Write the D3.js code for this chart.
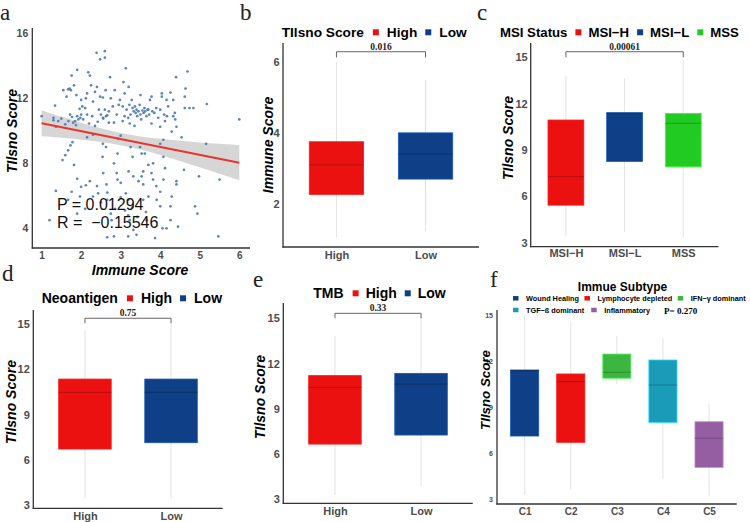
<!DOCTYPE html>
<html><head><meta charset="utf-8">
<script src="https://cdn.jsdelivr.net/npm/d3@7"></script>
<style>body{margin:0;background:#fff} svg{display:block}</style>
</head><body>
<svg id="chart" width="750" height="522"></svg>
<script>
// ---------- DATA ----------
const scatterPoints = [
[1.0,10.9],[1.3,10.8],[1.3,10.65],[1.34,11.55],[1.5,10.75],[1.55,12.5],[1.63,12.1],[1.67,12.55],[1.71,12.6],[1.74,12.5],[1.76,13.4],[1.82,12.8],[1.9,13.75],[1.72,11.0],[1.77,10.85],[1.8,10.5],[1.85,10.6],[1.9,10.9],[1.93,10.7],[1.96,11.35],[2.0,11.0],[1.98,10.8],[1.6,10.4],[1.68,10.6],[1.87,10.35],[2.0,11.9],[2.03,11.5],[1.88,12.2],[1.42,10.6],
[2.05,10.7],[2.1,11.4],[2.12,12.0],[2.15,11.0],[2.18,13.6],[2.22,13.4],[2.25,12.8],[2.2,10.45],[2.28,10.9],[2.35,12.4],[2.4,12.7],[2.39,14.8],[2.48,14.4],[2.6,14.9],[2.6,14.5],[2.48,12.1],[2.45,11.3],[2.5,11.0],[2.55,10.8],[2.56,10.75],[2.6,11.3],[2.62,12.5],[2.63,10.9],[2.66,10.95],[2.7,11.2],[2.73,13.3],[2.75,12.0],[2.8,11.5],[2.83,10.5],[2.85,12.5],[2.9,11.0],[2.95,11.6],[2.98,11.9],[2.35,10.3],[2.42,10.55],[2.7,10.5],[2.3,11.8],[2.15,12.3],[2.55,12.05],
[3.05,11.5],[3.07,13.0],[3.13,13.85],[3.1,12.3],[3.15,11.3],[3.19,10.8],[3.22,11.6],[3.25,11.0],[3.28,11.9],[3.3,11.4],[3.33,11.2],[3.36,11.5],[3.38,11.1],[3.4,11.3],[3.42,10.9],[3.45,11.2],[3.48,11.6],[3.5,11.0],[3.52,10.7],[3.55,11.25],[3.58,11.1],[3.6,11.4],[3.62,11.2],[3.65,10.9],[3.68,11.3],[3.7,11.3],[3.72,11.0],[3.74,11.9],[3.78,12.1],[3.78,10.45],[3.8,11.2],[3.85,11.1],[3.23,10.45],[3.05,10.6],[3.1,10.9],[3.35,10.3],[3.5,12.2],[3.2,12.7],[3.9,11.4],[3.95,10.8],
[4.0,10.25],[4.0,11.3],[4.04,12.1],[4.04,12.3],[4.1,11.0],[4.16,11.9],[4.2,11.5],[4.17,10.9],[4.26,12.35],[4.33,11.9],[4.33,10.9],[4.37,11.1],[4.4,13.3],[4.41,10.25],[4.29,9.95],[4.38,10.7],[4.62,11.4],[4.62,12.1],[4.64,12.6],[4.69,13.65],[4.74,11.4],[4.84,11.4],[5.18,11.65],[6.0,10.7],[4.54,9.6],[4.08,9.45],[4.0,9.2],[4.12,10.6],
[1.36,10.25],[1.6,8.5],[1.53,8.2],[1.67,8.8],[1.73,9.1],[1.78,9.3],[1.82,7.9],[2.15,9.6],[2.3,9.75],[2.63,9.0],[2.54,8.4],[2.83,8.0],[2.92,8.6],[2.94,9.5],[3.25,9.0],[3.3,8.4],[3.49,9.0],[3.53,8.6],[3.61,8.6],[3.82,8.0],[4.08,8.4],[5.16,9.2],[3.0,9.7],[2.55,9.2],
[1.2,4.5],[1.36,6.3],[1.76,6.25],[1.9,4.9],[1.97,5.95],[2.0,6.55],[2.12,6.65],[2.22,6.9],[2.3,5.95],[2.43,6.15],[1.67,5.75],[2.56,7.4],[2.64,6.7],[2.66,6.2],[2.66,5.75],[2.66,3.45],[2.83,3.5],[2.86,5.2],[2.77,4.5],[2.9,7.4],[2.92,7.0],[3.32,7.2],[3.2,7.5],[3.13,6.15],[3.19,5.75],[3.11,5.1],[3.19,4.8],[3.23,4.5],[3.32,3.9],[3.19,3.5],[3.4,3.6],[3.42,4.7],[3.53,7.2],[3.57,7.5],[3.57,6.7],[3.57,5.75],[3.78,7.4],[3.82,7.0],[3.7,5.95],[3.64,5.0],[3.66,4.5],[3.87,3.4],[3.91,5.75],[4.0,6.25],[4.0,5.35],[4.06,4.0],[4.16,4.0],[4.08,7.0],[4.12,7.7],[4.41,6.9],[4.41,6.7],[4.29,5.95],[4.26,5.35],[4.26,4.5],[4.45,4.1],[4.98,7.2],[4.88,5.35],[4.94,4.9],[5.5,7.0],[5.47,3.5],[2.4,6.6],[2.5,5.6],[3.0,6.8],[3.45,6.9],[3.9,6.6],[2.1,5.2],[1.9,7.05],[3.0,5.9],[3.7,7.9],[4.6,7.6],[2.75,4.9],[3.3,5.3]
];
const fitX = [1, 6];
const fitY = [10.46, 8.04];
const bandX  = [1, 1.5, 2, 2.5, 3, 3.5, 4, 4.5, 5, 5.5, 6];
const bandLo = [9.66, 9.57, 9.46, 9.32, 9.13, 8.86, 8.52, 8.15, 7.76, 7.36, 6.96];
const bandHi = [11.26, 10.87, 10.50, 10.14, 9.85, 9.64, 9.50, 9.38, 9.28, 9.20, 9.12];
const scatterXTicks = [1, 2, 3, 4, 5, 6];
const scatterYTicks = [4, 8, 12, 16];
const scatterStats = ["P = 0.01294", "R =  \u22120.15546"];

const hlCats = ["High", "Low"];
const hlColors = ["#EC1111", "#0F3F87"];
const bBoxes = [[1.07, 2.27, 3.1, 3.75, 6.0], [1.23, 2.7, 3.41, 4.0, 5.49]];
const bTicks = [2, 4, 6];
const bP = "0.016";

const cCats = ["MSI\u2212H", "MSI\u2212L", "MSS"];
const cColors = ["#EC1111", "#0F3F87", "#22CB22"];
const cBoxes = [[3.43, 5.43, 7.27, 10.94, 13.8], [3.7, 8.26, 11.38, 11.41, 13.64], [3.34, 7.91, 10.73, 11.37, 14.8]];
const tisTicks = [3, 6, 9, 12, 15];
const cP = "0.00061";

const dBoxes = [[3.44, 6.71, 10.47, 11.35, 14.56], [3.38, 7.13, 10.47, 11.35, 15.05]];
const dP = "0.75";
const eBoxes = [[3.28, 6.66, 10.42, 11.2, 13.83], [3.84, 7.26, 10.64, 11.35, 15.07]];
const eP = "0.33";

const fCats = ["C1", "C2", "C3", "C4", "C5"];
const fLabels = ["Wound Healing", "Lymphocyte depleted", "IFN\u2212\u03b3 dominant", "TGF\u2212\u00df dominant", "Inflammatory"];
const fColors = ["#0F3F87", "#EC1111", "#3DB541", "#1A9CB9", "#955EA0"];
const fBoxes = [[3.28, 7.12, 11.38, 11.42, 15.0], [3.6, 6.71, 10.66, 11.16, 14.56], [10.5, 10.88, 11.27, 12.46, 13.63], [4.3, 8.01, 10.44, 12.07, 13.48], [3.22, 5.08, 6.97, 8.05, 9.2]];
const fP = "P= 0.270";

// ---------- DRAW ----------
const SANS = "'Liberation Sans', Arial, sans-serif";
const SERIF = "'Liberation Serif', 'Times New Roman', serif";
const svg = d3.select("#chart");
const AX = "#333333", TICK = "#4d4d4d";
const fmt = d3.format("d");

function axisLines(g, xL, xR, yT, yB) {
  g.append("line").attr("x1", xL).attr("x2", xL).attr("y1", yT).attr("y2", yB + 0.6)
    .attr("stroke", AX).attr("stroke-width", 1.3);
  g.append("line").attr("x1", xL - 0.6).attr("x2", xR).attr("y1", yB).attr("y2", yB)
    .attr("stroke", AX).attr("stroke-width", 1.3);
}
function styleAxis(sel, fs) {
  sel.select(".domain").remove();
  sel.selectAll("text").attr("font-family", SANS).attr("font-weight", "bold")
    .attr("font-size", fs).attr("fill", TICK);
}
function yTitle(g, x, y, txt, fs) {
  g.append("text").attr("transform", `translate(${x},${y}) rotate(-90)`)
    .attr("text-anchor", "middle").attr("font-family", SANS).attr("font-weight", "bold")
    .attr("font-style", "italic").attr("font-size", fs).attr("fill", "#000").text(txt);
}
function panelLetter(x, y, t) {
  svg.append("text").attr("x", x).attr("y", y).attr("font-family", SERIF)
    .attr("font-size", 23).attr("fill", "#222").text(t);
}
function legend(x0, yc, title, labels, colors, o) {
  let x = x0;
  const g = svg.append("g");
  if (title) {
    const t = g.append("text").attr("x", x).attr("y", yc + o.fs * 0.36)
      .attr("font-family", SANS).attr("font-weight", "bold").attr("font-size", o.fs).text(title);
    x += t.node().getComputedTextLength() + o.gT;
  }
  labels.forEach((l, i) => {
    g.append("rect").attr("x", x).attr("y", yc - o.sh / 2).attr("width", o.sw).attr("height", o.sh)
      .attr("fill", colors[i]);
    x += o.sw + o.gS;
    const t = g.append("text").attr("x", x).attr("y", yc + o.fs * 0.36)
      .attr("font-family", SANS).attr("font-weight", "bold").attr("font-size", o.fs).text(l);
    x += t.node().getComputedTextLength() + o.gI;
  });
  return x;
}

function boxPanel(cfg) {
  const g = svg.append("g");
  const y = d3.scaleLinear().domain(cfg.yDom).range(cfg.yRng);
  const x = d3.scalePoint().domain(cfg.cats).range([cfg.xL, cfg.xR]).padding(0.6);
  const bw = x.step() * 0.61;
  cfg.cats.forEach((c, i) => {
    const [mn, q1, md, q3, mx] = cfg.boxes[i];
    const col = cfg.colors[i];
    g.append("line").attr("x1", x(c)).attr("x2", x(c)).attr("y1", y(mn)).attr("y2", y(mx))
      .attr("stroke", "#e3e3e3").attr("stroke-width", 1);
    g.append("rect").attr("x", x(c) - bw / 2).attr("y", y(q3)).attr("width", bw)
      .attr("height", y(q1) - y(q3)).attr("fill", col)
      .attr("stroke", d3.color(col).brighter(0.9)).attr("stroke-width", 0.8);
    g.append("line").attr("x1", x(c) - bw / 2).attr("x2", x(c) + bw / 2)
      .attr("y1", y(md)).attr("y2", y(md)).attr("stroke", d3.color(col).darker(0.8)).attr("stroke-width", 0.9);
  });
  axisLines(g, cfg.xL, cfg.xR, cfg.yT, cfg.yB);
  const ya = g.append("g").attr("transform", `translate(${cfg.xL},0)`)
    .call(d3.axisLeft(y).tickValues(cfg.ticks).tickFormat(fmt).tickSize(0).tickPadding(cfg.yPad || 3.5));
  styleAxis(ya, cfg.yFs || 11);
  const xa = g.append("g").attr("transform", `translate(0,${cfg.yB})`)
    .call(d3.axisBottom(x).tickSize(0).tickPadding(cfg.xPad || 4));
  styleAxis(xa, cfg.xFs || 11);
  yTitle(g, cfg.titleX, cfg.titleY, cfg.title, cfg.titleFs || 14);
  if (cfg.sig) {
    const [a, b] = cfg.sig.pair;
    const x1 = x(cfg.cats[a]), x2 = x(cfg.cats[b]);
    const yl = y(cfg.sig.top), yt = y(cfg.sig.bot);
    g.append("path").attr("d", `M${x1},${yt}V${yl}H${x2}V${yt}`)
      .attr("fill", "none").attr("stroke", "#555").attr("stroke-width", 0.9);
    g.append("text").attr("x", (x1 + x2) / 2).attr("y", yl - 2).attr("text-anchor", "middle")
      .attr("font-family", SERIF).attr("font-weight", "bold").attr("font-size", 9.5)
      .attr("fill", "#222").text(cfg.sig.label);
  }
  return { x, y, g };
}

// ---- Panel a ----
(function () {
  const g = svg.append("g");
  const x = d3.scaleLinear().domain([1, 6]).range([41.6, 239.3]);
  const y = d3.scaleLinear().domain([4, 16]).range([228.3, 33.3]);
  const band = bandX.map((v, i) => [v, bandLo[i], bandHi[i]]);
  g.append("path").datum(band)
    .attr("d", d3.area().x(d => x(d[0])).y0(d => y(d[1])).y1(d => y(d[2])).curve(d3.curveBasis))
    .attr("fill", "#cfcfcf").attr("opacity", 0.85);
  g.selectAll("circle").data(scatterPoints).join("circle")
    .attr("cx", d => x(d[0])).attr("cy", d => y(d[1])).attr("r", 1.35)
    .attr("fill", "#4a78b3").attr("opacity", 0.9);
  g.append("line").attr("x1", x(fitX[0])).attr("x2", x(fitX[1]))
    .attr("y1", y(fitY[0])).attr("y2", y(fitY[1])).attr("stroke", "#e8352d").attr("stroke-width", 2);
  axisLines(g, 32.3, 250, 28, 248);
  const ya = g.append("g").attr("transform", "translate(32.3,0)")
    .call(d3.axisLeft(y).tickValues(scatterYTicks).tickFormat(fmt).tickSize(0).tickPadding(4));
  styleAxis(ya, 10.5);
  const xa = g.append("g").attr("transform", "translate(0,248)")
    .call(d3.axisBottom(x).tickValues(scatterXTicks).tickFormat(fmt).tickSize(0).tickPadding(4));
  styleAxis(xa, 10);
  yTitle(g, 17, 131, "TIlsno Score", 14);
  g.append("text").attr("x", 140).attr("y", 274.5).attr("text-anchor", "middle")
    .attr("font-family", SANS).attr("font-weight", "bold").attr("font-style", "italic")
    .attr("font-size", 14).text("Immune Score");
  g.append("text").attr("x", 57).attr("y", 210).attr("font-family", SANS).attr("font-size", 16)
    .attr("fill", "#111").text(scatterStats[0]);
  g.append("text").attr("x", 57).attr("y", 228).attr("font-family", SANS).attr("font-size", 16)
    .attr("fill", "#111").style("white-space", "pre").text(scatterStats[1]);
})();

// ---- Panel b ----
boxPanel({ cats: hlCats, boxes: bBoxes, colors: hlColors, xL: 283, xR: 479, yT: 43, yB: 247,
  yDom: [2, 6], yRng: [204, 61.7], ticks: bTicks, titleX: 273, titleY: 145, title: "Immune Score",
  sig: { pair: [0, 1], top: 6.28, bot: 6.12, label: bP }, xPad: 4 });
legend(281.7, 32.3, "TIlsno Score", hlCats, hlColors, { fs: 13.7, sw: 6, sh: 6, gT: 9, gS: 8, gI: 8 });

// ---- Panel c ----
boxPanel({ cats: cCats, boxes: cBoxes, colors: cColors, xL: 530.7, xR: 718.5, yT: 43, yB: 246.7,
  yDom: [3, 15], yRng: [242.7, 57.3], ticks: tisTicks, titleX: 513, titleY: 138, title: "TIlsno Score",
  sig: { pair: [0, 2], top: 15.36, bot: 15.0, label: cP }, xPad: 2.5, yPad: 3 });
legend(500, 32.3, "MSI Status", cCats, cColors, { fs: 13.2, sw: 6, sh: 6, gT: 8, gS: 7, gI: 8 });

// ---- Panel d ----
boxPanel({ cats: hlCats, boxes: dBoxes, colors: hlColors, xL: 33.3, xR: 222.7, yT: 310, yB: 508.3,
  yDom: [3, 15], yRng: [505, 324], ticks: tisTicks, titleX: 16, titleY: 402, title: "TIlsno Score",
  sig: { pair: [0, 1], top: 15.38, bot: 15.05, label: dP }, xPad: 4 });
legend(41.7, 298.3, "Neoantigen", hlCats, hlColors, { fs: 14, sw: 6, sh: 6, gT: 9, gS: 8, gI: 8 });

// ---- Panel e ----
boxPanel({ cats: hlCats, boxes: eBoxes, colors: hlColors, xL: 283.3, xR: 472.7, yT: 303, yB: 503.3,
  yDom: [3, 15], yRng: [499.3, 318.3], ticks: tisTicks, titleX: 265, titleY: 397, title: "TIlsno Score",
  sig: { pair: [0, 1], top: 15.33, bot: 15.0, label: eP }, xPad: 4 });
legend(313.3, 293.3, "TMB", hlCats, hlColors, { fs: 14, sw: 6, sh: 6, gT: 9, gS: 7, gI: 8 });

// ---- Panel f ----
boxPanel({ cats: fCats, boxes: fBoxes, colors: fColors, xL: 497, xR: 736.7, yT: 310, yB: 504,
  yDom: [3, 15], yRng: [499.3, 315], ticks: tisTicks, titleX: 490, titleY: 390, title: "TIlsno Score",
  titleFs: 13.3, yFs: 7, yPad: 4, xFs: 10, xPad: 4 });
svg.append("text").attr("x", 622.5).attr("y", 290.5).attr("text-anchor", "middle")
  .attr("font-family", SANS).attr("font-weight", "bold").attr("font-size", 12).text("Immue Subtype");
legend(513, 298.3, null, fLabels.slice(0, 3), fColors.slice(0, 3), { fs: 7.3, sw: 5.5, sh: 4.5, gT: 0, gS: 7.5, gI: 5.5 });
const fx = legend(513, 310, null, fLabels.slice(3), fColors.slice(3), { fs: 7.3, sw: 5.5, sh: 4.5, gT: 0, gS: 7.5, gI: 7 });
svg.append("text").attr("x", fx + 7).attr("y", 313.5).attr("font-family", SERIF)
  .attr("font-weight", "bold").attr("font-size", 9).text(fP);

// ---- letters ----
panelLetter(0, 20, "a"); panelLetter(240, 20, "b"); panelLetter(477, 20, "c");
panelLetter(2, 281, "d"); panelLetter(253, 287, "e"); panelLetter(490, 287, "f");
</script>
</body></html>
